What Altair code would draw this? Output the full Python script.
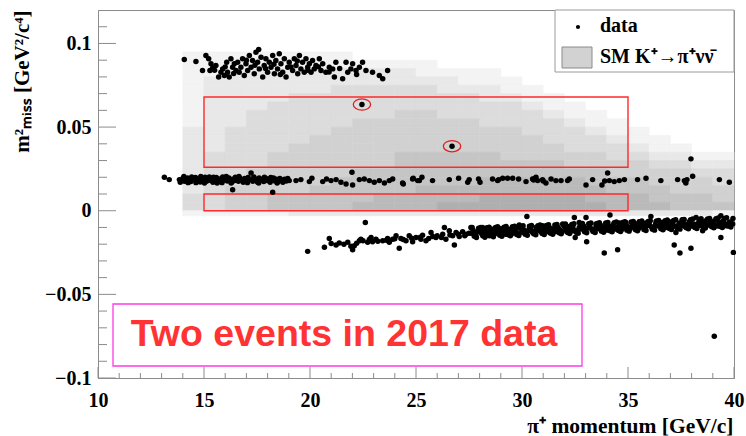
import altair as alt
import pandas as pd

W, H = 636, 368

# ---------------- axis ticks ----------------
x_major = [10, 15, 20, 25, 30, 35, 40]
x_minor = [v for v in range(11, 40) if v % 5]
y_major = [-0.1, -0.05, 0.0, 0.05, 0.1]
y_minor = [-0.09, -0.08, -0.07, -0.06, -0.04, -0.03, -0.02, -0.01,
           0.01, 0.02, 0.03, 0.04, 0.06, 0.07, 0.08, 0.09, 0.11]

# ---------------- SM K+ -> pi+ nu nubar expectation (2D histogram) ----------------
hist_p_edges = list(range(14, 41))          # 1 GeV/c bins, 14 .. 40
hist_m2_lo = [0.090, 0.085, 0.080, 0.075, 0.070, 0.065, 0.060, 0.055, 0.050, 0.045,
              0.040, 0.035, 0.030, 0.025, 0.020, 0.015, 0.010, 0.005, 0.000, -0.003]
hist_m2_hi = [0.095, 0.090, 0.085, 0.080, 0.075, 0.070, 0.065, 0.060, 0.055, 0.050,
              0.045, 0.040, 0.035, 0.030, 0.025, 0.020, 0.015, 0.010, 0.005, 0.000]
hist_w = [
    [1, 1, 1, 1, 1, 1, 1, 1, 0, 0, 0, 0, 0, 0, 0, 0, 0, 0, 0, 0, 0, 0, 0, 0, 0, 0],
    [1, 1, 1, 1, 1, 1, 1, 1, 1, 1, 1, 1, 0, 0, 0, 0, 0, 0, 0, 0, 0, 0, 0, 0, 0, 0],
    [1, 1, 2, 2, 2, 2, 2, 2, 2, 2, 2, 1, 1, 1, 1, 0, 0, 0, 0, 0, 0, 0, 0, 0, 0, 0],
    [1, 2, 2, 2, 2, 2, 2, 2, 2, 2, 2, 2, 2, 1, 1, 1, 0, 0, 0, 0, 0, 0, 0, 0, 0, 0],
    [1, 2, 2, 2, 2, 2, 2, 3, 3, 3, 3, 3, 2, 2, 2, 1, 1, 0, 0, 0, 0, 0, 0, 0, 0, 0],
    [1, 2, 2, 2, 2, 3, 3, 3, 3, 3, 3, 3, 3, 3, 2, 2, 1, 1, 0, 0, 0, 0, 0, 0, 0, 0],
    [1, 2, 2, 2, 3, 3, 3, 3, 3, 3, 3, 3, 3, 3, 3, 3, 2, 1, 1, 0, 0, 0, 0, 0, 0, 0],
    [1, 2, 2, 3, 3, 3, 3, 3, 3, 3, 4, 4, 3, 3, 3, 3, 3, 2, 1, 1, 0, 0, 0, 0, 0, 0],
    [1, 2, 2, 3, 3, 3, 3, 3, 4, 4, 4, 4, 4, 4, 3, 3, 3, 3, 2, 1, 1, 0, 0, 0, 0, 0],
    [2, 2, 3, 3, 3, 3, 3, 4, 4, 4, 4, 4, 4, 4, 4, 4, 3, 3, 3, 2, 1, 1, 0, 0, 0, 0],
    [2, 2, 3, 3, 3, 3, 4, 4, 4, 4, 4, 4, 4, 4, 4, 4, 4, 3, 3, 3, 2, 1, 1, 0, 0, 0],
    [2, 2, 3, 3, 3, 4, 4, 4, 4, 4, 4, 4, 4, 4, 4, 4, 4, 4, 3, 3, 3, 2, 1, 1, 0, 0],
    [2, 3, 3, 3, 4, 4, 4, 4, 4, 4, 5, 5, 5, 5, 5, 4, 4, 4, 4, 4, 3, 3, 2, 2, 1, 1],
    [2, 3, 3, 3, 4, 4, 4, 4, 4, 4, 5, 5, 5, 5, 5, 5, 5, 5, 4, 4, 4, 4, 3, 3, 2, 2],
    [2, 3, 3, 4, 4, 4, 4, 4, 5, 5, 5, 5, 5, 5, 5, 5, 5, 5, 5, 5, 4, 4, 4, 4, 3, 3],
    [2, 3, 3, 4, 4, 4, 4, 5, 5, 5, 5, 5, 5, 5, 6, 6, 6, 6, 6, 5, 5, 5, 4, 4, 4, 3],
    [2, 3, 4, 4, 4, 4, 5, 5, 5, 5, 5, 6, 6, 6, 6, 6, 6, 6, 6, 6, 5, 5, 5, 4, 4, 4],
    [3, 3, 4, 4, 5, 5, 5, 5, 5, 6, 6, 6, 6, 6, 7, 7, 7, 7, 7, 6, 6, 6, 5, 5, 5, 4],
    [3, 3, 4, 4, 5, 5, 5, 5, 6, 6, 6, 6, 7, 7, 7, 7, 7, 7, 7, 7, 6, 6, 6, 5, 5, 5],
    [1, 1, 1, 1, 1, 2, 2, 2, 2, 2, 2, 2, 2, 2, 2, 2, 2, 2, 2, 2, 2, 2, 2, 2, 2, 1],
]

# ---------------- signal regions and selected events ----------------
region_p_lo = [15, 15]
region_p_hi = [35, 35]
region_m2_lo = [0.000, 0.026]
region_m2_hi = [0.010, 0.068]

event_p = [22.45, 26.70]
event_m2 = [0.0635, 0.0386]

# ---------------- data: (p [GeV/c], m2_miss [GeV^2/c^4]) ----------------
# upper band
upper_band = [
    (14.07, 0.0904), (14.62, 0.0892), (14.93, 0.0838), (15.09, 0.0928), (15.22, 0.0908),
    (15.33, 0.0878), (15.28, 0.0838), (15.41, 0.0853), (15.56, 0.0868), (15.69, 0.0799),
    (15.80, 0.0828), (15.88, 0.0848), (15.96, 0.0809), (16.07, 0.0888), (16.11, 0.0828),
    (16.19, 0.0799), (16.27, 0.0908), (16.35, 0.0858), (16.43, 0.0878), (16.51, 0.0838),
    (16.59, 0.0888), (16.66, 0.0828), (16.74, 0.0858), (16.82, 0.0908), (16.90, 0.0809),
    (16.98, 0.0878), (17.06, 0.0838), (17.14, 0.0928), (17.22, 0.0858), (17.29, 0.0898),
    (17.37, 0.0819), (17.45, 0.0948), (17.53, 0.0888), (17.58, 0.0964), (17.61, 0.0848),
    (17.69, 0.0918), (17.77, 0.0799), (17.84, 0.0868), (17.92, 0.0908), (18.00, 0.0828),
    (18.08, 0.0888), (18.16, 0.0858), (18.24, 0.0928), (18.32, 0.0819), (18.39, 0.0898),
    (18.47, 0.0848), (18.55, 0.0938), (18.63, 0.0878), (18.71, 0.0828), (18.79, 0.0908),
    (18.87, 0.0799), (18.95, 0.0858), (19.02, 0.0888), (19.18, 0.0838), (19.26, 0.0908),
    (19.34, 0.0868), (19.42, 0.0819), (19.50, 0.0928), (19.57, 0.0848), (19.65, 0.0888),
    (19.73, 0.0828), (19.81, 0.0908), (19.89, 0.0858), (19.97, 0.0878), (20.05, 0.0828),
    (20.12, 0.0898), (20.20, 0.0848), (20.28, 0.0868), (20.44, 0.0908), (20.52, 0.0838),
    (20.60, 0.0878), (20.75, 0.0828), (20.91, 0.0858), (21.07, 0.0848), (21.15, 0.0799),
    (21.22, 0.0888), (21.54, 0.0789), (21.70, 0.0888), (21.78, 0.0828), (21.93, 0.0848),
    (22.01, 0.0878), (22.17, 0.0838), (22.33, 0.0858), (22.48, 0.0888), (22.64, 0.0838),
    (22.95, 0.0828), (23.27, 0.0809), (23.43, 0.0789), (23.66, 0.0838),
    (15.50, 0.0840), (16.00, 0.0860), (16.40, 0.0820), (17.00, 0.0900), (17.40, 0.0870),
    (17.90, 0.0850), (18.30, 0.0875), (18.60, 0.0815), (19.10, 0.0860), (19.40, 0.0895),
    (19.90, 0.0840), (20.40, 0.0860), (20.90, 0.0830), (21.40, 0.0850), (22.20, 0.0815),
]

# K+ -> pi+ pi0 band
pi0_band = [
    (13.13, 0.0200), (13.36, 0.0186),
    (13.84, 0.0186), (13.92, 0.0180), (14.00, 0.0192), (14.08, 0.0176), (14.15, 0.0188),
    (14.22, 0.0196), (14.30, 0.0182), (14.38, 0.0174), (14.45, 0.0190), (14.52, 0.0184),
    (14.60, 0.0198), (14.68, 0.0178), (14.75, 0.0188), (14.82, 0.0172), (14.90, 0.0192),
    (14.98, 0.0184), (15.05, 0.0200), (15.12, 0.0176), (15.20, 0.0190), (15.28, 0.0182),
    (15.35, 0.0194), (15.42, 0.0170), (15.50, 0.0186), (15.58, 0.0198), (15.65, 0.0180),
    (15.72, 0.0190), (15.80, 0.0174), (15.88, 0.0202), (15.95, 0.0184), (16.02, 0.0192),
    (16.10, 0.0178), (16.18, 0.0196), (16.25, 0.0186), (16.32, 0.0172), (16.40, 0.0190),
    (16.48, 0.0200), (16.55, 0.0182), (16.62, 0.0176), (16.70, 0.0194), (16.78, 0.0186),
    (16.85, 0.0170), (16.92, 0.0192), (17.00, 0.0180), (17.08, 0.0198), (17.15, 0.0186),
    (17.22, 0.0226), (17.30, 0.0176), (17.38, 0.0192), (17.45, 0.0184), (17.52, 0.0172),
    (17.60, 0.0196), (17.68, 0.0182), (17.75, 0.0188), (17.82, 0.0174), (17.90, 0.0194),
    (17.98, 0.0180), (18.05, 0.0190), (18.12, 0.0170), (18.20, 0.0186), (18.28, 0.0196),
    (18.35, 0.0178), (18.42, 0.0188), (18.50, 0.0174), (18.58, 0.0192), (18.65, 0.0182),
    (18.72, 0.0170), (18.80, 0.0188), (18.88, 0.0178), (18.95, 0.0192), (19.02, 0.0180),
    (13.88, 0.0170), (14.05, 0.0204), (14.25, 0.0168), (14.42, 0.0202), (14.62, 0.0168),
    (14.85, 0.0204), (15.02, 0.0166), (15.25, 0.0202), (15.45, 0.0200), (15.62, 0.0166),
    (15.85, 0.0168), (16.05, 0.0204), (16.28, 0.0166), (16.45, 0.0180), (16.65, 0.0204),
    (16.88, 0.0184), (17.05, 0.0168), (17.35, 0.0202), (17.58, 0.0166), (17.85, 0.0200),
    (18.15, 0.0198), (18.45, 0.0166), (16.35, 0.0126), (18.24, 0.0110),
    (19.34, 0.0180), (19.57, 0.0186), (19.97, 0.0174), (20.09, 0.0194), (20.60, 0.0174),
    (20.78, 0.0190), (20.99, 0.0180), (21.23, 0.0186), (21.46, 0.0170), (21.70, 0.0160),
    (21.98, 0.0230), (22.01, 0.0154), (22.33, 0.0186), (22.56, 0.0190), (22.80, 0.0180),
    (23.03, 0.0170), (23.27, 0.0180), (23.51, 0.0166), (23.74, 0.0180), (23.90, 0.0190),
    (24.37, 0.0166), (24.84, 0.0190), (25.08, 0.0180),
    (24.40, 0.0160), (24.87, 0.0194), (25.16, 0.0180), (25.28, 0.0200), (25.78, 0.0180),
    (26.57, 0.0186), (27.01, 0.0194), (27.44, 0.0170), (27.51, 0.0186), (27.95, 0.0190),
    (28.02, 0.0170), (28.61, 0.0190), (28.85, 0.0180), (29.09, 0.0194), (29.32, 0.0194),
    (29.56, 0.0194), (29.84, 0.0190), (30.19, 0.0174), (30.50, 0.0190), (30.66, 0.0200),
    (30.74, 0.0180), (30.97, 0.0186), (31.13, 0.0166), (31.37, 0.0190), (31.60, 0.0180),
    (31.84, 0.0180), (32.15, 0.0180), (32.23, 0.0190), (33.02, 0.0154), (33.33, 0.0186),
    (33.77, 0.0154), (34.04, 0.0226), (34.12, 0.0180), (34.35, 0.0174), (34.59, 0.0180),
    (34.83, 0.0186), (35.45, 0.0186), (35.85, 0.0194), (36.55, 0.0180), (37.34, 0.0186),
    (37.66, 0.0180), (37.73, 0.0166), (38.05, 0.0206), (37.97, 0.0310), (39.31, 0.0186),
    (39.78, 0.0170), (30.55, 0.0184), (30.60, 0.0192), (31.00, 0.0178), (28.90, 0.0186),
    (33.90, 0.0178), (37.70, 0.0176), (37.78, 0.0186),
]

# K+ -> mu+ nu band (negative m2_miss)
mu_band = [
    (19.89, -0.0243), (20.68, -0.0219), (20.91, -0.0166), (21.23, -0.0205), (21.38, -0.0193),
    (21.78, -0.0189), (21.93, -0.0213), (22.01, -0.0233), (22.09, -0.0209), (22.33, -0.0179),
    (22.40, -0.0170), (22.61, -0.0070), (22.72, -0.0189), (22.88, -0.0160), (22.95, -0.0185),
    (23.11, -0.0170), (23.43, -0.0179), (23.66, -0.0166), (23.74, -0.0189), (23.90, -0.0170),
    (24.06, -0.0150), (24.21, -0.0225), (24.29, -0.0166), (24.53, -0.0179), (24.68, -0.0150),
    (24.84, -0.0185), (25.00, -0.0160), (25.23, -0.0170), (25.31, -0.0146), (25.47, -0.0179),
    (25.71, -0.0130), (25.79, -0.0154), (25.94, -0.0160), (26.26, -0.0140), (26.34, -0.0100),
    (26.41, -0.0170), (26.57, -0.0120), (26.73, -0.0150), (26.81, -0.0205), (26.89, -0.0130),
    (27.04, -0.0154), (27.20, -0.0126), (27.36, -0.0140), (27.59, -0.0100), (27.67, -0.0130),
    (27.83, -0.0150), (27.99, -0.0120), (28.14, -0.0100), (28.30, -0.0130), (28.46, -0.0150),
    (28.62, -0.0110), (28.77, -0.0130), (28.93, -0.0106), (29.09, -0.0120), (29.24, -0.0140),
    (29.40, -0.0110), (29.56, -0.0126), (29.72, -0.0100), (29.87, -0.0086), (30.03, -0.0120),
    (30.23, -0.0034), (30.35, -0.0106), (30.50, -0.0130), (30.66, -0.0100), (30.82, -0.0120),
    (30.97, -0.0090), (31.13, -0.0114), (31.29, -0.0100), (31.45, -0.0130), (31.60, -0.0090),
    (31.76, -0.0110), (31.92, -0.0080), (32.07, -0.0106), (32.23, -0.0094), (32.39, -0.0120),
    (32.47, -0.0040), (32.51, -0.0160), (32.70, -0.0070), (32.86, -0.0100), (33.02, -0.0040),
    (33.05, -0.0185), (33.17, -0.0090), (33.33, -0.0110), (33.49, -0.0080), (33.65, -0.0100),
    (33.88, -0.0253), (33.96, -0.0086), (34.15, -0.0026), (34.28, -0.0100), (34.51, -0.0233),
    (34.59, -0.0074), (34.75, -0.0094), (34.90, -0.0070), (35.06, -0.0106), (35.22, -0.0080),
    (35.38, -0.0100), (35.53, -0.0066), (35.69, -0.0090), (35.85, -0.0074), (36.08, -0.0034),
    (36.16, -0.0100), (36.32, -0.0066), (36.48, -0.0086), (36.63, -0.0070), (36.79, -0.0100),
    (36.95, -0.0066), (37.11, -0.0080), (37.18, -0.0205), (37.26, -0.0130), (37.42, -0.0074),
    (37.45, -0.0253), (37.58, -0.0054), (37.74, -0.0086), (37.89, -0.0066), (37.97, -0.0225),
    (38.05, -0.0090), (38.21, -0.0040), (38.36, -0.0074), (38.52, -0.0120), (38.68, -0.0060),
    (38.84, -0.0086), (38.99, -0.0070), (39.15, -0.0054), (39.31, -0.0080), (39.38, -0.0030),
    (39.38, -0.0160), (39.46, -0.0066), (39.62, -0.0090), (39.78, -0.0070), (39.94, -0.0080),
    (39.97, -0.0249),
    (21.00, -0.0196), (21.60, -0.0200), (22.20, -0.0195), (22.50, -0.0180), (22.80, -0.0172),
    (23.20, -0.0182), (23.60, -0.0176), (24.00, -0.0168), (24.40, -0.0172), (24.80, -0.0164),
    (25.20, -0.0158), (25.60, -0.0166), (26.00, -0.0150), (26.20, -0.0160), (26.60, -0.0145),
    (27.00, -0.0140), (27.30, -0.0150), (27.50, -0.0135),
    (27.6, -0.0135), (27.7, -0.0118), (27.8, -0.0142), (27.9, -0.0125), (28.0, -0.0110),
    (28.1, -0.0138), (28.2, -0.0122), (28.3, -0.0145), (28.4, -0.0115), (28.5, -0.0132),
    (28.6, -0.0125), (28.7, -0.0140), (28.8, -0.0112), (28.9, -0.0128), (29.0, -0.0136),
    (29.1, -0.0108), (29.2, -0.0124), (29.3, -0.0132), (29.4, -0.0118), (29.5, -0.0140),
    (29.6, -0.0112), (29.7, -0.0126), (29.8, -0.0134), (29.9, -0.0105), (30.0, -0.0128),
    (30.1, -0.0115), (30.2, -0.0136), (30.3, -0.0120), (30.4, -0.0102), (30.5, -0.0124),
    (30.6, -0.0132), (30.7, -0.0112), (30.8, -0.0104), (30.9, -0.0126), (31.0, -0.0118),
    (31.1, -0.0098), (31.2, -0.0122), (31.3, -0.0130), (31.4, -0.0108), (31.5, -0.0116),
    (31.6, -0.0124), (31.7, -0.0100), (31.8, -0.0118), (31.9, -0.0126), (32.0, -0.0096),
    (32.1, -0.0114), (32.2, -0.0120), (32.3, -0.0104), (32.4, -0.0092), (32.5, -0.0116),
    (32.6, -0.0124), (32.7, -0.0100), (32.8, -0.0110), (32.9, -0.0090), (33.0, -0.0118),
    (33.1, -0.0104), (33.2, -0.0096), (33.3, -0.0114), (33.4, -0.0120), (33.5, -0.0094),
    (33.6, -0.0108), (33.7, -0.0086), (33.8, -0.0112), (33.9, -0.0100), (34.0, -0.0116),
    (34.1, -0.0092), (34.2, -0.0106), (34.3, -0.0084), (34.4, -0.0110), (34.5, -0.0098),
    (34.6, -0.0088), (34.7, -0.0112), (34.8, -0.0102), (34.9, -0.0082), (35.0, -0.0096),
    (35.1, -0.0108), (35.2, -0.0090), (35.3, -0.0100), (35.4, -0.0080), (35.5, -0.0106),
    (35.6, -0.0094), (35.7, -0.0084), (35.8, -0.0102), (35.9, -0.0090), (36.0, -0.0078),
    (36.1, -0.0096), (36.2, -0.0104), (36.3, -0.0082), (36.4, -0.0092), (36.5, -0.0076),
    (36.6, -0.0100), (36.7, -0.0088), (36.8, -0.0080), (36.9, -0.0096), (37.0, -0.0086),
    (37.1, -0.0072), (37.2, -0.0092), (37.3, -0.0100), (37.4, -0.0082), (37.5, -0.0090),
    (37.6, -0.0074), (37.7, -0.0096), (37.8, -0.0084), (37.9, -0.0070), (38.0, -0.0092),
    (38.1, -0.0080), (38.2, -0.0098), (38.3, -0.0076), (38.4, -0.0088), (38.5, -0.0068),
    (38.6, -0.0094), (38.7, -0.0082), (38.8, -0.0074), (38.9, -0.0090), (39.0, -0.0064),
    (39.1, -0.0084), (39.2, -0.0092), (39.3, -0.0072), (39.4, -0.0086), (39.5, -0.0062),
    (39.6, -0.0080), (39.7, -0.0090), (39.8, -0.0068), (39.9, -0.0078),
    (27.65, -0.0100), (27.85, -0.0160), (28.05, -0.0100), (28.25, -0.0158), (28.45, -0.0098),
    (28.65, -0.0155), (28.85, -0.0096), (29.05, -0.0152), (29.25, -0.0094), (29.45, -0.0150),
    (29.65, -0.0092), (29.85, -0.0148), (30.05, -0.0090), (30.25, -0.0146), (30.45, -0.0088),
    (30.65, -0.0144), (30.85, -0.0086), (31.05, -0.0142), (31.25, -0.0084), (31.45, -0.0140),
    (31.65, -0.0082), (31.85, -0.0138), (32.05, -0.0080), (32.25, -0.0136), (32.45, -0.0078),
    (32.65, -0.0134), (32.85, -0.0076), (33.05, -0.0132), (33.25, -0.0074), (33.45, -0.0130),
    (33.65, -0.0072), (33.85, -0.0128), (34.05, -0.0070), (34.25, -0.0126), (34.45, -0.0068),
    (34.65, -0.0124), (34.85, -0.0066), (35.05, -0.0122), (35.25, -0.0064), (35.45, -0.0120),
    (35.65, -0.0062), (35.85, -0.0118), (36.05, -0.0060), (36.25, -0.0116), (36.45, -0.0058),
    (36.65, -0.0114), (36.85, -0.0056), (37.05, -0.0112), (37.25, -0.0054), (37.45, -0.0110),
    (37.65, -0.0052), (37.85, -0.0108), (38.05, -0.0050), (38.25, -0.0106), (38.45, -0.0048),
    (38.65, -0.0104), (38.85, -0.0046), (39.05, -0.0102), (39.25, -0.0044), (39.45, -0.0100),
    (39.65, -0.0042), (39.85, -0.0098),
    (27.75, -0.0152), (27.95, -0.0104), (28.15, -0.0150), (28.35, -0.0102), (28.55, -0.0148),
    (28.75, -0.0100), (28.95, -0.0146), (29.15, -0.0098), (29.35, -0.0144), (29.55, -0.0096),
    (29.75, -0.0142), (29.95, -0.0094), (30.15, -0.0140), (30.35, -0.0092), (30.55, -0.0138),
    (30.75, -0.0090), (30.95, -0.0136), (31.15, -0.0088), (31.35, -0.0134), (31.55, -0.0086),
    (31.75, -0.0132), (31.95, -0.0084), (32.15, -0.0130), (32.35, -0.0082), (32.55, -0.0128),
    (32.75, -0.0080), (32.95, -0.0126), (33.15, -0.0078), (33.35, -0.0124), (33.55, -0.0076),
    (33.75, -0.0122), (33.95, -0.0074), (34.15, -0.0120), (34.35, -0.0072), (34.55, -0.0118),
    (34.75, -0.0070), (34.95, -0.0116), (35.15, -0.0068), (35.35, -0.0114), (35.55, -0.0066),
    (35.75, -0.0112), (35.95, -0.0064), (36.15, -0.0110), (36.35, -0.0062), (36.55, -0.0108),
    (36.75, -0.0060), (36.95, -0.0106), (37.15, -0.0058), (37.35, -0.0104), (37.55, -0.0056),
    (37.75, -0.0102), (37.95, -0.0054), (38.15, -0.0100), (38.35, -0.0052), (38.55, -0.0098),
    (38.75, -0.0050), (38.95, -0.0096), (39.15, -0.0048), (39.35, -0.0094), (39.55, -0.0046),
    (39.75, -0.0092), (39.95, -0.0046),
]

isolated = [(39.07, -0.0750)]

legend_labels = ["data", "SM K\u207a\u2192\u03c0\u207a\u03bd\u03bd\u0304"]
note_text = "Two events in 2017 data"

# ---------------- tables ----------------
rows = []
for i, lo in enumerate(hist_m2_lo):
    for j, w in enumerate(hist_w[i]):
        if w > 0:
            rows.append({"x0": hist_p_edges[j], "x1": hist_p_edges[j + 1],
                         "y0": lo, "y1": hist_m2_hi[i], "w": w})
hist_df = pd.DataFrame(rows)

pts = upper_band + pi0_band + mu_band + isolated + list(zip(event_p, event_m2))
pts_df = pd.DataFrame(pts, columns=["p", "m2"])
ev_df = pd.DataFrame({"p": event_p, "m2": event_m2})
reg_df = pd.DataFrame({"x0": region_p_lo, "x1": region_p_hi,
                       "y0": region_m2_lo, "y1": region_m2_hi})

SERIF = "Liberation Serif"
AX = "#8c8c8c"
xs = alt.Scale(domain=[10, 40], nice=False, zero=False)
ys = alt.Scale(domain=[-0.1, 0.12], nice=False, zero=False)

X_AXIS = alt.Axis(
    title="\u03c0\u207a momentum [GeV/c]", values=x_major, ticks=False, grid=False,
    labelFont=SERIF, labelFontWeight="bold", labelFontSize=20, labelColor="black",
    labelPadding=12, labelFlush=False, domainColor=AX,
    titleFont=SERIF, titleFontWeight="bold", titleFontSize=21.5, titleColor="black",
    titleAnchor="end", titleAlign="right", titleBaseline="alphabetic",
    titleX=W - 1, titleY=54,
)
Y_AXIS = alt.Axis(
    title="m\u00b2\u2098\u1d62\u209b\u209b [GeV\u00b2/c\u2074]", values=y_major, format=".2~f",
    ticks=False, grid=False,
    labelFont=SERIF, labelFontWeight="bold", labelFontSize=20, labelColor="black",
    labelPadding=7, labelFlush=False, domainColor=AX,
    titleFont=SERIF, titleFontWeight="bold", titleFontSize=21, titleColor="black",
    titleAngle=270, titleAlign="right", titleBaseline="alphabetic",
    titleX=-70, titleY=0,
)


def enc_xy(xf, yf):
    return dict(x=alt.X(xf, scale=xs, axis=X_AXIS), y=alt.Y(yf, scale=ys, axis=Y_AXIS))


gray = alt.Scale(domain=[0, 8], range=["#ffffff", "#a4a4a4"])
hist = alt.Chart(hist_df).mark_rect(strokeWidth=0.6).encode(
    **enc_xy("x0:Q", "y0:Q"), x2="x1:Q", y2="y1:Q",
    color=alt.Color("w:Q", scale=gray, legend=None),
    stroke=alt.Stroke("w:Q", scale=gray, legend=None),
)

regions = alt.Chart(reg_df).mark_rect(fill=None, stroke="#ff2a2a", strokeWidth=1.4).encode(
    **enc_xy("x0:Q", "y0:Q"), x2="x1:Q", y2="y1:Q",
)

dots = alt.Chart(pts_df).mark_circle(size=30, color="black", opacity=1).encode(
    **enc_xy("p:Q", "m2:Q"),
)

ellipse = "M -1 0 A 1 0.65 0 1 1 1 0 A 1 0.65 0 1 1 -1 0 Z"
rings = alt.Chart(ev_df).mark_point(shape=ellipse, size=300, filled=False,
                                    color="#e02020", strokeWidth=1.3, opacity=1).encode(
    **enc_xy("p:Q", "m2:Q"),
)

ytm = alt.Chart(pd.DataFrame({"v": y_major})).mark_rule(color=AX, strokeWidth=1).encode(
    y=alt.Y("v:Q", scale=ys, axis=Y_AXIS), x=alt.value(0), x2=alt.value(18))
ytn = alt.Chart(pd.DataFrame({"v": y_minor})).mark_rule(color=AX, strokeWidth=1).encode(
    y=alt.Y("v:Q", scale=ys, axis=Y_AXIS), x=alt.value(0), x2=alt.value(9))
xtm = alt.Chart(pd.DataFrame({"v": x_major})).mark_rule(color=AX, strokeWidth=1).encode(
    x=alt.X("v:Q", scale=xs, axis=X_AXIS), y=alt.value(H), y2=alt.value(H - 11))
xtn = alt.Chart(pd.DataFrame({"v": x_minor})).mark_rule(color=AX, strokeWidth=1).encode(
    x=alt.X("v:Q", scale=xs, axis=X_AXIS), y=alt.value(H), y2=alt.value(H - 5))

one = pd.DataFrame({"k": [0]})
leg_box = alt.Chart(one).mark_rect(fill="white", stroke="#9a9a9a", strokeWidth=1).encode(
    x=alt.value(457), x2=alt.value(W), y=alt.value(0), y2=alt.value(62))
leg_dot = alt.Chart(one).mark_circle(size=18, color="black", opacity=1).encode(
    x=alt.value(480), y=alt.value(17))
leg_sw = alt.Chart(one).mark_rect(fill="#d2d2d2", stroke="#8a8a8a", strokeWidth=1).encode(
    x=alt.value(464), x2=alt.value(494), y=alt.value(37), y2=alt.value(58))
leg_t1 = alt.Chart(pd.DataFrame({"t": [legend_labels[0]]})).mark_text(
    font=SERIF, fontWeight="bold", fontSize=20, align="left", baseline="middle", color="black"
).encode(text="t:N", x=alt.value(502), y=alt.value(16))
leg_t2 = alt.Chart(pd.DataFrame({"t": [legend_labels[1]]})).mark_text(
    font=SERIF, fontWeight="bold", fontSize=20, align="left", baseline="middle", color="black"
).encode(text="t:N", x=alt.value(502), y=alt.value(47))

note_box = alt.Chart(one).mark_rect(fill="white", stroke="#ff3ae6", strokeWidth=1.3).encode(
    x=alt.value(15), x2=alt.value(484), y=alt.value(294), y2=alt.value(356))
note = alt.Chart(pd.DataFrame({"t": [note_text]})).mark_text(
    font="Liberation Sans", fontWeight="bold", fontSize=37.5, align="center",
    baseline="middle", color="#ff3333"
).encode(text="t:N", x=alt.value(246), y=alt.value(325))

chart = alt.layer(
    hist, regions, dots, rings, ytm, ytn, xtm, xtn,
    leg_box, leg_dot, leg_sw, leg_t1, leg_t2, note_box, note,
).properties(
    width=W, height=H,
    padding={"left": 98, "top": 10, "right": 12, "bottom": 58},
    autosize=alt.AutoSizeParams(type="none"),
    background="white",
).configure_view(stroke=AX, strokeWidth=1)

chart.save("out.html", embed_options={"renderer": "svg", "actions": False})
